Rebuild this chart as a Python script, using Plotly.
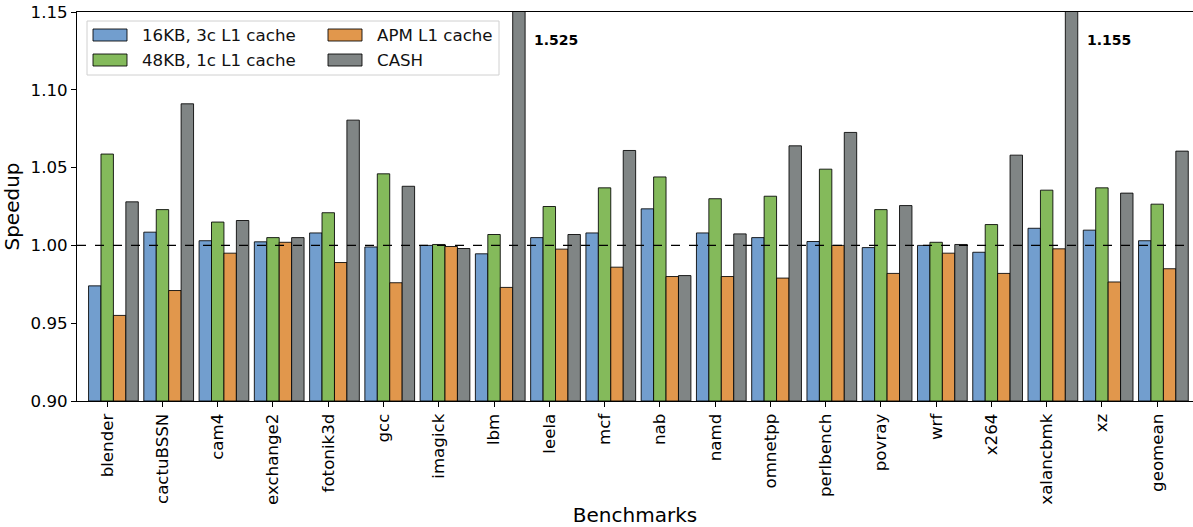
import plotly.graph_objects as go

# Benchmarks and measured speedups (normalised to baseline = 1.0)
benchmarks = ["blender", "cactuBSSN", "cam4", "exchange2", "fotonik3d", "gcc",
              "imagick", "lbm", "leela", "mcf", "nab", "namd", "omnetpp",
              "perlbench", "povray", "wrf", "x264", "xalancbmk", "xz", "geomean"]

l1_16kb_3c = [0.974, 1.0085, 1.003, 1.0023, 1.008, 0.999, 1.000, 0.9946, 1.005, 1.008,
              1.0235, 1.008, 1.005, 1.0025, 0.9986, 1.000, 0.9956, 1.011, 1.0098, 1.003]
l1_48kb_1c = [1.0587, 1.023, 1.015, 1.005, 1.021, 1.046, 1.0006, 1.007, 1.025, 1.037,
              1.044, 1.030, 1.0316, 1.049, 1.023, 1.002, 1.0134, 1.0355, 1.037, 1.0265]
apm_l1 = [0.955, 0.971, 0.995, 1.002, 0.989, 0.976, 0.9993, 0.973, 0.9976, 0.986,
          0.980, 0.980, 0.979, 1.000, 0.982, 0.995, 0.982, 0.9978, 0.9765, 0.985]
cash = [1.028, 1.091, 1.016, 1.005, 1.0805, 1.038, 0.998, 1.525, 1.007, 1.061,
        0.9806, 1.0074, 1.064, 1.0726, 1.0256, 1.0006, 1.058, 1.155, 1.0336, 1.0606]

series_names = ["16KB, 3c L1 cache", "48KB, 1c L1 cache", "APM L1 cache", "CASH"]
series_values = [l1_16kb_3c, l1_48kb_1c, apm_l1, cash]
colors = ["#729ECE", "#84BA5B", "#E1974C", "#808585"]

y_min, y_max = 0.90, 1.15
bar_w = 0.225
FONT = "DejaVu Sans"
FS = 16.67

positions = list(range(len(benchmarks)))
fig = go.Figure()
for k, (name, vals, col) in enumerate(zip(series_names, series_values, colors)):
    fig.add_trace(go.Bar(
        x=positions, y=[v - y_min for v in vals], base=y_min,
        name=name, width=bar_w, offset=(k - 1.5) * bar_w,
        marker=dict(color=col, line=dict(color="rgba(0,0,0,0.85)", width=1)),
        showlegend=False,
        customdata=vals, hovertemplate="%{customdata:.3f}<extra>" + name + "</extra>",
    ))

# label bars that run past the top of the axis
for i, v in enumerate(cash):
    if v > y_max:
        fig.add_annotation(x=i + 2.5 * bar_w, y=1.132, xref="x", yref="y",
                           text="<b>%.3f</b>" % v, showarrow=False,
                           xanchor="left", yanchor="middle", xshift=7,
                           font=dict(family=FONT, size=14, color="black"))

# baseline reference
fig.add_shape(type="line", xref="paper", yref="y", x0=0, x1=1, y0=1.0, y1=1.0,
              line=dict(color="black", width=1.2, dash="dash"))

# legend box, two columns
L, W, T, H = 77, 1116, 12, 389
def px(x):
    return (x - L) / W
def py(y):
    return (T + H - y) / H

fig.add_shape(type="rect", xref="paper", yref="paper",
              x0=px(87), x1=px(499), y0=py(75), y1=py(21),
              line=dict(color="#d0d0d0", width=1), fillcolor="rgba(255,255,255,0.85)")
cols_x = [93, 328]
rows_y = [35, 60]
for k, (name, col) in enumerate(zip(series_names, colors)):
    cx = cols_x[k // 2]
    cy = rows_y[k % 2]
    fig.add_shape(type="rect", xref="paper", yref="paper",
                  x0=px(cx), x1=px(cx + 34), y0=py(cy + 6), y1=py(cy - 6),
                  line=dict(color="rgba(0,0,0,0.85)", width=1), fillcolor=col)
    fig.add_annotation(x=px(cx + 47), y=py(cy), xref="paper", yref="paper",
                       text=name, showarrow=False, xanchor="left", yanchor="middle",
                       font=dict(family=FONT, size=FS, color="#111"))

fig.update_layout(
    width=1193, height=527,
    margin=dict(l=L, r=0, t=T, b=527 - T - H),
    plot_bgcolor="white", paper_bgcolor="white",
    barmode="overlay",
    font=dict(family=FONT, size=FS, color="black"),
)
fig.update_xaxes(
    range=[-0.5465, 19.648], tickmode="array", tickvals=positions, ticktext=benchmarks,
    tickangle=-90, ticks="outside", ticklen=5, tickcolor="black",
    showline=True, linecolor="black", linewidth=1, mirror=True, showgrid=False,
    zeroline=False, tickfont=dict(family=FONT, size=FS), automargin=False,
    title=dict(text="Benchmarks", font=dict(family=FONT, size=20), standoff=6),
)
fig.update_yaxes(
    range=[y_min, y_max], tickmode="array",
    tickvals=[0.90, 0.95, 1.00, 1.05, 1.10, 1.15], tickformat=".2f",
    ticks="outside", ticklen=5, tickcolor="black",
    showline=True, linecolor="black", linewidth=1, mirror=True, showgrid=False,
    zeroline=False, tickfont=dict(family=FONT, size=FS), automargin=False,
    title=dict(text="Speedup", font=dict(family=FONT, size=20), standoff=8),
)

fig.write_html("out.html")
